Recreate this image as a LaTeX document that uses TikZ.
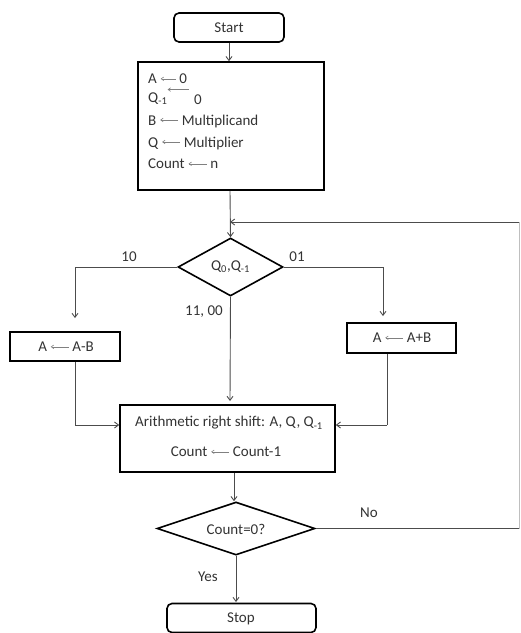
\documentclass[tikz,border=0pt]{standalone}
\usepackage{fontspec}
\setmainfont{Carlito}
\usetikzlibrary{shapes.geometric,arrows.meta}
\newcommand{\larr}[1][18pt]{\tikz[baseline=-0.7ex]\draw[line width=0.6pt,black!50,-{Straight Barb[length=2.5pt,width=3.6pt]}] (#1,0)--(0,0);}
\tikzset{
  box/.style={draw=black,line width=1.6pt,inner sep=0pt},
  rbox/.style={box,rounded corners=5pt},
  dia/.style={draw=black,line width=1.6pt,diamond,inner sep=0pt},
  conn/.style={draw=black!70,line width=0.9pt},
  arr/.style={conn,-{Straight Barb[length=4pt,width=6pt]}},
  txt/.style={text=black!80,inner sep=0pt,font=\fontsize{15}{17}\selectfont},
}
\begin{document}
\begin{tikzpicture}[x=1pt,y=-1pt]
\useasboundingbox (0,0) rectangle (521,633);
% Start
\node[rbox,minimum width=110pt,minimum height=29pt] (start) at (229,27.5) {};
\node[txt] (starttxt) at (229,28) {Start};
% Init box
\node[box,minimum width=186pt,minimum height=128pt] (init) at (231,126) {};
\node[txt,anchor=west] (i1) at (148,79) {A \larr[15pt] 0};
\node[txt,anchor=west] (i2) at (148,99) {Q\textsubscript{-1}};
\node[txt,anchor=west] (i2a) at (167,91) {\larr[21pt]};
\node[txt,anchor=west] (i2b) at (194,100) {0};
\node[txt,anchor=west] (i3) at (148,121) {B \larr{} Multiplicand};
\node[txt,anchor=west] (i4) at (148,143) {Q \larr{} Multiplier};
\node[txt,anchor=west] (i5) at (148,164) {Count \larr{} n};
% Decision 1
\node[dia,minimum width=105pt,minimum height=58pt] (d1) at (230.5,267) {};
\node[txt] (d1txt) at (230.5,267) {Q\textsubscript{0},Q\textsubscript{-1}};
\node[txt] (l10) at (129,257) {10};
\node[txt] (l01) at (297,257) {01};
\node[txt] (l1100) at (204,312) {11, 00};
% Side boxes
\node[box,minimum width=110pt,minimum height=29pt] (sub) at (65,346.5) {};
\node[txt] (subtxt) at (66,347) {A \larr{} A-B};
\node[box,minimum width=109pt,minimum height=30pt] (add) at (401.5,338) {};
\node[txt] (addtxt) at (402,338) {A \larr{} A+B};
% Shift box
\node[box,minimum width=215pt,minimum height=67pt] (shift) at (227.5,438.5) {};
\node[txt] (s1) at (229,423) {Arithmetic right shift: A, Q, Q\textsubscript{-1}};
\node[txt] (s2) at (226,452) {Count \larr{} Count-1};
% Decision 2
\node[dia,minimum width=158pt,minimum height=53pt] (d2) at (236,528.5) {};
\node[txt] (d2txt) at (236,529) {Count=0?};
\node[txt] (lno) at (369,513) {No};
\node[txt] (lyes) at (208,577) {Yes};
% Stop
\node[rbox,minimum width=149pt,minimum height=29pt] (stop) at (241.5,618) {};
\node[txt] (stoptxt) at (241,619) {Stop};
% coordinates
\coordinate (loopin) at (230,222);
\coordinate (r1) at (519,528.5);
\coordinate (r2) at (519,222);
\coordinate (lc) at (75,267);
\coordinate (rc) at (383,267);
\coordinate (lb) at (75,425);
\coordinate (rb) at (387,425);
% connectors
\draw[arr] (start.south) -- (start.south |- init.north);
\draw[arr] (init.south -| 230,0) -- (d1.north);
\draw[arr] (d1.west) -- (lc) -- (75,318);
\draw[arr] (d1.east) -- (rc) -- (383,316);
\draw[arr] (d1.south) -- (230,401);
\draw[conn] (sub.south -| lb) -- (lb);
\draw[arr] (lb) -- (shift.west |- lb);
\draw[conn] (add.south -| rb) -- (rb);
\draw[arr] (rb) -- (shift.east |- rb);
\draw[arr] (shift.south -| 234,0) -- (d2.north -| 234,0);
\draw[arr] (d2.south) -- (236,602);
\draw[conn] (d2.east) -- (r1);
\draw[draw=black!25,line width=0.6pt] (r1) -- (r2);
\draw[arr] (r2) -- (loopin);
\end{tikzpicture}
\end{document}
